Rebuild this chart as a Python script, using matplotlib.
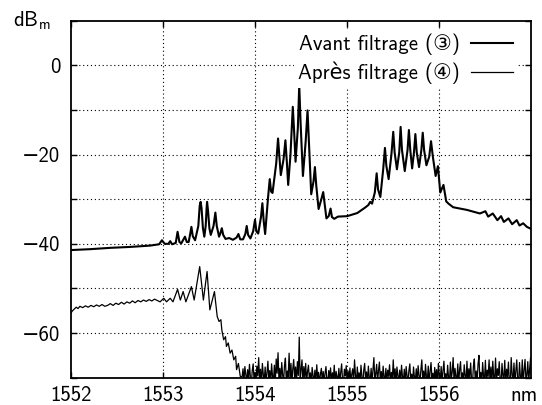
import numpy as np
import matplotlib
matplotlib.use("Agg")
import matplotlib.pyplot as plt

plt.rcParams['font.family'] = ['cmss10', 'DejaVu Sans', 'Noto Sans CJK JP']
plt.rcParams['mathtext.fontset'] = 'cm'
plt.rcParams['axes.unicode_minus'] = True
plt.rcParams['axes.formatter.use_mathtext'] = False

# Spectrum before filtering (wavelength nm, power dBm)
avant_x = [1552.00, 1552.21, 1552.43, 1552.64, 1552.86, 1552.96, 1552.99, 1553.02,
           1553.06, 1553.08, 1553.10, 1553.14, 1553.16, 1553.18, 1553.20, 1553.24,
           1553.26, 1553.28, 1553.295, 1553.31, 1553.325, 1553.35, 1553.385, 1553.40,
           1553.41, 1553.42, 1553.435, 1553.45, 1553.465, 1553.475, 1553.48, 1553.49,
           1553.505, 1553.52, 1553.55, 1553.57, 1553.585, 1553.61, 1553.625, 1553.64,
           1553.655, 1553.68, 1553.72, 1553.76, 1553.80, 1553.82, 1553.84, 1553.87,
           1553.895, 1553.91, 1553.925, 1553.95, 1553.98, 1554.00, 1554.015, 1554.035,
           1554.065, 1554.08, 1554.095, 1554.11, 1554.14, 1554.16, 1554.175, 1554.19,
           1554.23, 1554.25, 1554.265, 1554.28, 1554.31, 1554.33, 1554.345, 1554.36,
           1554.385, 1554.41, 1554.425, 1554.44, 1554.465, 1554.48, 1554.495, 1554.52,
           1554.55, 1554.57, 1554.585, 1554.61, 1554.635, 1554.65, 1554.665, 1554.69,
           1554.72, 1554.74, 1554.755, 1554.775, 1554.80, 1554.82, 1554.835, 1554.86,
           1554.90, 1555.00, 1555.11, 1555.20, 1555.23, 1555.25, 1555.27, 1555.30,
           1555.32, 1555.335, 1555.36, 1555.39, 1555.41, 1555.425, 1555.45, 1555.48,
           1555.50, 1555.515, 1555.54, 1555.565, 1555.58, 1555.595, 1555.625, 1555.655,
           1555.67, 1555.685, 1555.705, 1555.725, 1555.74, 1555.755, 1555.78, 1555.805,
           1555.82, 1555.835, 1555.86, 1555.89, 1555.91, 1555.93, 1555.96, 1555.985,
           1556.01, 1556.045, 1556.075, 1556.10, 1556.15, 1556.30, 1556.44, 1556.50,
           1556.53, 1556.58, 1556.63, 1556.67, 1556.70, 1556.75, 1556.79, 1556.84,
           1556.87, 1556.91, 1556.95, 1557.00]
avant_y = [-41.4, -41.2, -40.9, -40.7, -40.4, -40.1, -39.2, -40.0,
           -40.0, -39.4, -40.1, -39.8, -37.3, -39.6, -39.9, -38.4,
           -39.6, -39.6, -38.0, -36.2, -38.3, -39.2, -36.0, -31.5,
           -30.6, -32.0, -36.5, -38.4, -36.0, -32.0, -30.6, -32.5,
           -36.5, -38.0, -36.0, -33.0, -36.0, -38.4, -37.6, -36.5,
           -38.0, -38.9, -38.7, -39.1, -38.6, -37.8, -39.0, -39.0,
           -37.8, -36.0, -38.0, -38.8, -37.2, -34.6, -37.2, -37.7,
           -34.0, -30.9, -35.0, -37.8, -30.0, -25.5, -28.3, -28.6,
           -22.0, -16.4, -20.5, -24.6, -21.0, -16.8, -21.5, -26.8,
           -20.0, -9.3, -15.0, -21.6, -14.0, -4.5, -13.0, -24.8,
           -17.0, -10.1, -17.0, -28.9, -26.0, -22.8, -27.0, -32.2,
           -30.0, -28.4, -31.0, -34.3, -33.8, -32.1, -34.0, -34.4,
           -33.9, -33.8, -33.1, -31.8, -31.3, -30.6, -31.0, -28.5,
           -24.2, -27.8, -29.5, -23.5, -18.5, -22.5, -25.5, -20.0,
           -14.9, -19.5, -23.3, -19.5, -13.8, -19.0, -23.7, -19.0,
           -14.5, -19.0, -23.1, -19.5, -15.4, -19.5, -22.8, -19.0,
           -15.1, -19.0, -22.4, -20.5, -17.0, -20.5, -24.8, -22.6,
           -28.5, -26.8, -30.5, -31.0, -31.8, -32.4, -33.2, -32.7,
           -33.9, -33.2, -34.7, -33.8, -35.1, -34.3, -35.6, -34.7,
           -35.9, -35.4, -36.2, -36.7]

# Spectrum after filtering: signal part
apres_x = [1552.00, 1552.02, 1552.04, 1552.06, 1552.08, 1552.10, 1552.13, 1552.16,
           1552.19, 1552.22, 1552.25, 1552.28, 1552.31, 1552.34, 1552.37, 1552.40,
           1552.43, 1552.46, 1552.49, 1552.52, 1552.55, 1552.58, 1552.61, 1552.64,
           1552.67, 1552.70, 1552.73, 1552.76, 1552.79, 1552.82, 1552.85, 1552.88,
           1552.91, 1552.94, 1552.97, 1553.01, 1553.04, 1553.08, 1553.11, 1553.16,
           1553.19, 1553.22, 1553.25, 1553.31, 1553.34, 1553.40, 1553.44, 1553.48,
           1553.51, 1553.56, 1553.59, 1553.61, 1553.63, 1553.64, 1553.66, 1553.68,
           1553.69, 1553.71, 1553.73, 1553.75, 1553.77, 1553.79, 1553.80, 1553.82,
           1553.84]
apres_y = [-55.6, -55.0, -54.6, -54.2, -54.5, -54.0, -54.3, -53.9,
           -54.2, -53.8, -54.1, -53.7, -54.0, -53.6, -54.0, -53.8,
           -53.4, -53.8, -53.3, -53.6, -53.1, -53.5, -53.0, -53.3,
           -52.8, -53.2, -52.7, -53.0, -52.6, -52.9, -52.5, -52.8,
           -52.4, -52.7, -53.0, -52.2, -53.0, -52.2, -53.0, -50.2,
           -52.6, -50.7, -53.0, -49.6, -52.6, -45.1, -52.6, -46.2,
           -54.8, -50.7, -56.3, -57.4, -57.0, -59.3, -61.5, -60.8,
           -63.0, -62.2, -64.5, -63.8, -66.0, -65.2, -68.2, -66.8,
           -69.7]

# Spectrum after filtering: noise floor, one reading every 0.01 nm from 1553.86 nm
floor_start, floor_stop = 1553.86, 1557.00
floor_y = [
    -69.8, -68.0, -70.9, -67.5, -69.2, -71.3, -68.2, -70.4, -67.0, -69.9, -71.5, -68.4, -66.9, -70.7, -68.8,
    -71.2, -67.4, -69.6, -65.5, -70.8, -68.1, -71.4, -66.8, -69.3, -70.9, -67.6, -71.0, -68.9, -66.3, -70.6,
    -68.4, -71.2, -66.9, -69.7, -70.8, -67.2, -71.3, -65.8, -69.0, -64.4, -70.7, -67.9, -71.1, -66.6, -69.4,
    -70.9, -67.3, -65.6, -71.2, -68.5, -69.8, -64.5, -70.6, -66.8, -71.3, -68.0, -65.9, -70.2, -67.6, -71.0,
    -66.4, -69.5, -60.9, -70.8, -68.2, -66.0, -71.2, -67.5, -69.9, -66.8, -71.0, -68.6, -67.2, -70.5, -68.9,
    -71.3, -67.7, -69.6, -70.9, -68.3, -71.2, -67.1, -70.0, -68.8, -71.4, -69.2, -67.9, -70.8, -68.6, -71.2,
    -69.0, -67.5, -70.6, -71.3, -68.4, -69.9, -67.8, -71.1, -68.9, -70.3, -67.2, -71.4, -68.6, -69.8, -70.9,
    -67.9, -71.0, -68.8, -66.9, -70.7, -71.3, -68.1, -69.6, -67.3, -71.2, -68.5, -70.4, -67.8, -71.0, -69.2,
    -68.0, -70.9, -66.0, -69.4, -71.3, -67.6, -70.2, -68.9, -71.1, -67.2, -69.8, -71.4, -68.3, -66.8, -70.6,
    -68.7, -71.2, -67.4, -69.9, -70.8, -67.9, -71.3, -68.2, -65.5, -70.7, -69.1, -67.0, -71.2, -68.4, -66.5,
    -70.9, -68.6, -71.3, -67.4, -69.8, -70.6, -67.9, -71.1, -68.3, -69.7, -67.1, -71.2, -68.8, -70.5, -66.0,
    -70.4, -68.0, -71.3, -67.6, -69.5, -70.9, -68.3, -71.1, -67.2, -69.8, -70.7, -68.1, -71.3, -67.5, -69.6,
    -71.0, -68.4, -66.9, -70.8, -69.2, -71.3, -67.6, -69.9, -70.6, -68.0, -71.2, -67.3, -69.5, -70.9, -68.2,
    -66.0, -70.7, -68.5, -71.2, -67.0, -69.8, -70.5, -67.4, -71.3, -68.6, -66.6, -70.2, -69.0, -71.1, -67.7,
    -70.4, -68.2, -71.2, -66.8, -69.7, -70.9, -67.5, -71.3, -68.4, -66.3, -70.6, -69.1, -71.0, -67.2, -69.9,
    -71.2, -66.5, -70.3, -68.7, -65.5, -71.1, -67.9, -69.8, -70.7, -66.9, -71.3, -68.2, -66.4, -70.5, -68.9,
    -71.2, -67.1, -69.6, -70.8, -66.3, -71.3, -68.0, -69.9, -66.7, -70.6, -71.2, -67.4, -65.8, -70.9, -68.5,
    -71.1, -67.0, -65.0, -70.7, -68.8, -71.3, -66.6, -69.8, -70.5, -66.1, -71.2, -68.3, -69.7, -66.0, -70.9,
    -67.6, -71.2, -66.3, -69.9, -70.8, -65.6, -71.1, -68.0, -69.5, -66.4, -70.7, -71.3, -66.8, -69.6, -70.4,
    -66.1, -71.2, -68.1, -69.8, -66.5, -70.9, -71.3, -65.5, -69.4, -70.6, -66.7, -71.1, -68.4, -66.0, -70.5,
    -71.2, -66.6, -69.9, -70.8, -66.0, -71.3, -68.3, -65.9, -70.6, -69.4, -66.4, -71.1, -68.0, -65.5, -70.7,
]

x_ticks = [1552, 1553, 1554, 1555, 1556]
y_ticks = [-70, -60, -50, -40, -30, -20, -10, 0, 10]
y_labels = ['', '−60', '', '−40', '', '−20', '', '0', '']
labels = ['Avant filtrage (③)', 'Après filtrage (④)']

floor_x = np.linspace(floor_start, floor_stop, len(floor_y))
after_x = np.concatenate([apres_x, floor_x])
after_y = np.concatenate([apres_y, floor_y])

FS = 15
XPAD = 6

fig = plt.figure(figsize=(5.42, 4.05), dpi=100)
ax = fig.add_axes([0.1304, 0.0674, 0.8502, 0.8815])

ax.plot(avant_x, avant_y, color='black', lw=1.5, label=labels[0])
ax.plot(after_x, after_y, color='black', lw=0.9, label=labels[1])

ax.set_xlim(1552, 1557)
ax.set_ylim(-70, 10)
ax.set_xticks(x_ticks)
ax.set_xticklabels([str(t) for t in x_ticks])
ax.set_yticks(y_ticks)
ax.set_yticklabels(y_labels)

for v in x_ticks[1:]:
    ax.axvline(v, color='black', lw=0.8, ls=(0, (1, 2.5)), zorder=0)
for v in y_ticks[1:-1]:
    ax.axhline(v, color='black', lw=0.8, ls=(0, (1, 2.5)), zorder=0)

ax.tick_params(direction='in', length=4.5, width=1, top=True, right=True,
               labelsize=FS, colors='black')
ax.tick_params(axis='y', pad=7.5)
ax.tick_params(axis='x', pad=XPAD)
for s in ax.spines.values():
    s.set_linewidth(1.3)

ax.text(-0.084, 1.0, r'dB$_{\mathsf{m}}$', transform=ax.transAxes,
        ha='center', va='center', fontsize=FS)
# unit label placed on the same row as the x tick labels
ax.text(0.984, -XPAD * 100 / 72 / 357, 'nm', transform=ax.transAxes,
        ha='center', va='top', fontsize=FS)

leg = ax.legend(loc='upper right', bbox_to_anchor=(0.969, 0.975), frameon=True,
                markerfirst=False, fontsize=FS, handlelength=2.0,
                handletextpad=0.56, labelspacing=0.3, borderpad=0.2,
                borderaxespad=0, fancybox=False)
leg.get_frame().set_facecolor('white')
leg.get_frame().set_edgecolor('none')
leg.get_frame().set_alpha(1)

fig.savefig('out.png', dpi=100)
